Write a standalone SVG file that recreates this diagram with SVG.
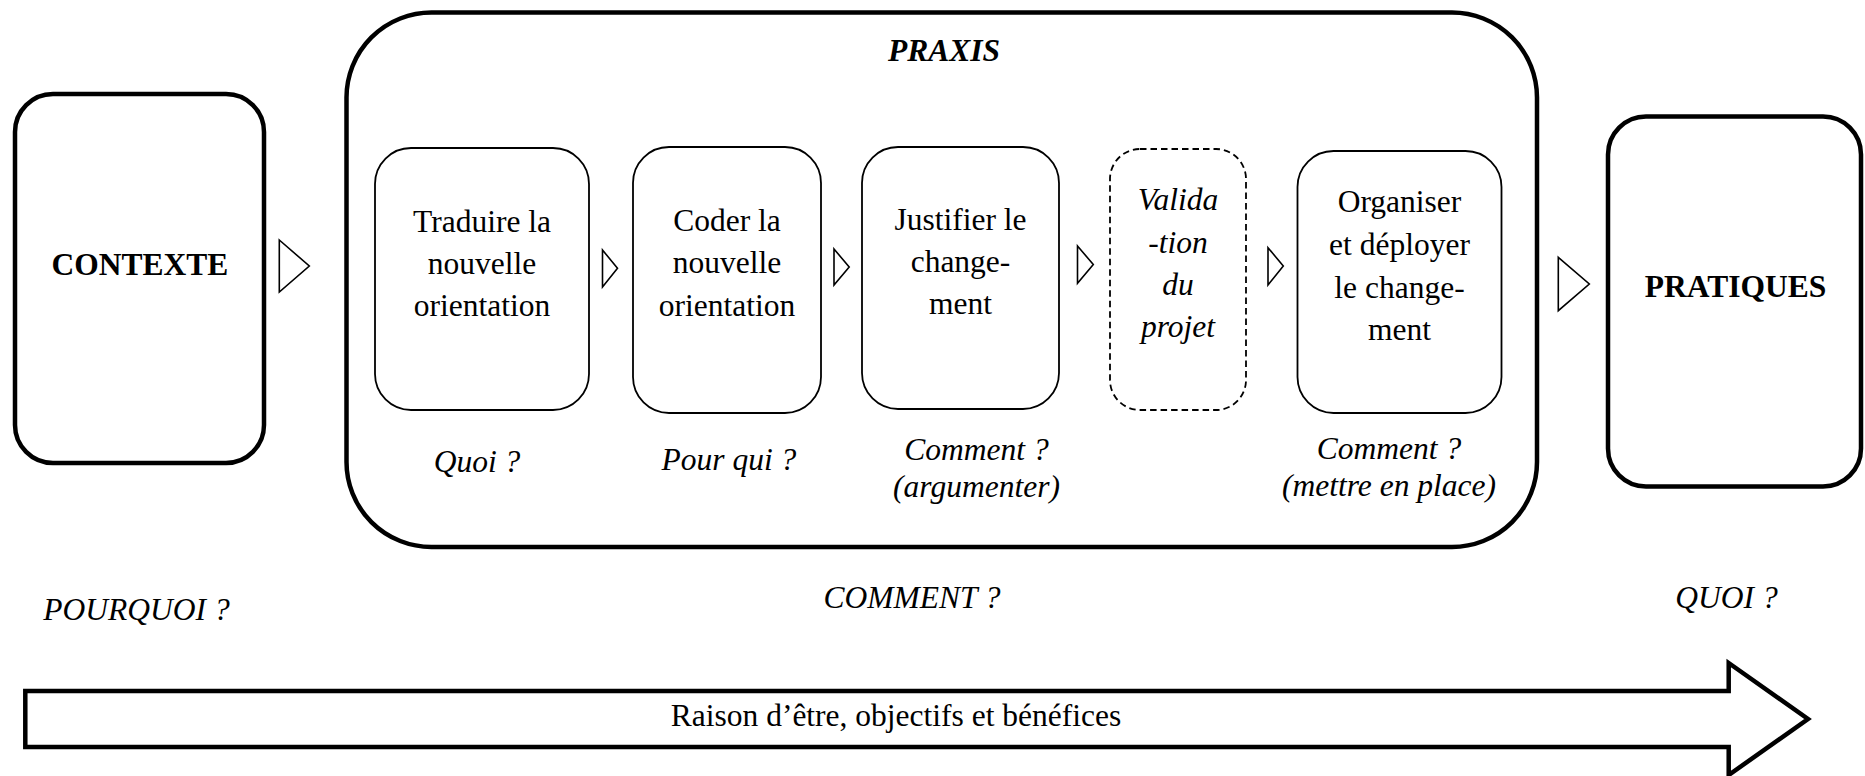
<svg xmlns="http://www.w3.org/2000/svg" width="1865" height="776" viewBox="0 0 1865 776">
<style>
text{font-family:"Liberation Serif","Times New Roman",serif;font-size:31.5px;fill:#000;text-anchor:middle}
.b{font-weight:bold}
.i{font-style:italic}
.big{fill:#fff;stroke:#000;stroke-width:4.5}
.box{fill:#fff;stroke:#000;stroke-width:1.8}
.dash{fill:#fff;stroke:#000;stroke-width:1.8;stroke-dasharray:6.5 4}
.tri{fill:#fff;stroke:#000;stroke-width:1.6;stroke-linejoin:miter}
</style>
<rect width="1865" height="776" fill="#fff"/>
<g id="praxis">
<rect class="big" x="346.5" y="12.5" width="1190.5" height="534.5" rx="85" ry="85"/>
<text class="b i" x="944" y="61">PRAXIS</text>
</g>
<g id="contexte">
<rect class="big" x="15" y="94" width="249" height="369" rx="38" ry="38"/>
<text class="b" x="140" y="275">CONTEXTE</text>
</g>
<g id="pratiques">
<rect class="big" x="1608" y="116.5" width="253" height="370" rx="38" ry="38"/>
<text class="b" x="1735.5" y="297">PRATIQUES</text>
</g>
<g id="traduire">
<rect class="box" x="375" y="148" width="214" height="262" rx="36" ry="36"/>
<text x="482" y="232">Traduire la</text>
<text x="482" y="274">nouvelle</text>
<text x="482" y="316">orientation</text>
</g>
<g id="coder">
<rect class="box" x="633" y="147" width="188" height="266" rx="36" ry="36"/>
<text x="727" y="231">Coder la</text>
<text x="727" y="273">nouvelle</text>
<text x="727" y="316">orientation</text>
</g>
<g id="justifier">
<rect class="box" x="862" y="147" width="197" height="262" rx="36" ry="36"/>
<text x="960.5" y="230">Justifier le</text>
<text x="960.5" y="272">change-</text>
<text x="960.5" y="314">ment</text>
</g>
<g id="validation">
<rect class="dash" x="1110" y="149" width="136" height="261" rx="30" ry="30"/>
<text class="i" x="1178" y="210">Valida</text>
<text class="i" x="1178" y="253">-tion</text>
<text class="i" x="1178" y="295">du</text>
<text class="i" x="1178" y="337">projet</text>
</g>
<g id="organiser">
<rect class="box" x="1297.5" y="151" width="204" height="262" rx="36" ry="36"/>
<text x="1399.5" y="212">Organiser</text>
<text x="1399.5" y="255">et déployer</text>
<text x="1399.5" y="297.5">le change-</text>
<text x="1399.5" y="340">ment</text>
</g>
<g id="labels">
<text class="i" x="477" y="472">Quoi ?</text>
<text class="i" x="729" y="469.5">Pour qui ?</text>
<text class="i" x="976.5" y="460">Comment ?</text>
<text class="i" x="976.5" y="496.5">(argumenter)</text>
<text class="i" x="1389" y="459">Comment ?</text>
<text class="i" x="1389" y="496">(mettre en place)</text>
<text class="i" x="136.5" y="620">POURQUOI ?</text>
<text class="i" x="912" y="608">COMMENT ?</text>
<text class="i" x="1726.5" y="608">QUOI ?</text>
</g>
<g id="connectors">
<polygon class="tri" points="279.3,240 309.3,266 279.3,292"/>
<polygon class="tri" points="602.5,250 617.5,268.3 602.5,287"/>
<polygon class="tri" points="834,249 849.2,267 834,285"/>
<polygon class="tri" points="1077.5,246 1093.3,264.5 1077.5,283.3"/>
<polygon class="tri" points="1268,247.7 1283.3,266 1268,285"/>
<polygon class="tri" points="1558.3,257.3 1589.3,284 1558.3,310.7"/>
</g>
<g id="timeline">
<polygon class="big" stroke-width="4" points="25.3,691 1728.7,691 1728.7,663 1808,719 1728.7,775 1728.7,747 25.3,747"/>
<text x="896" y="725.5">Raison d’être, objectifs et bénéfices</text>
</g>
</svg>
